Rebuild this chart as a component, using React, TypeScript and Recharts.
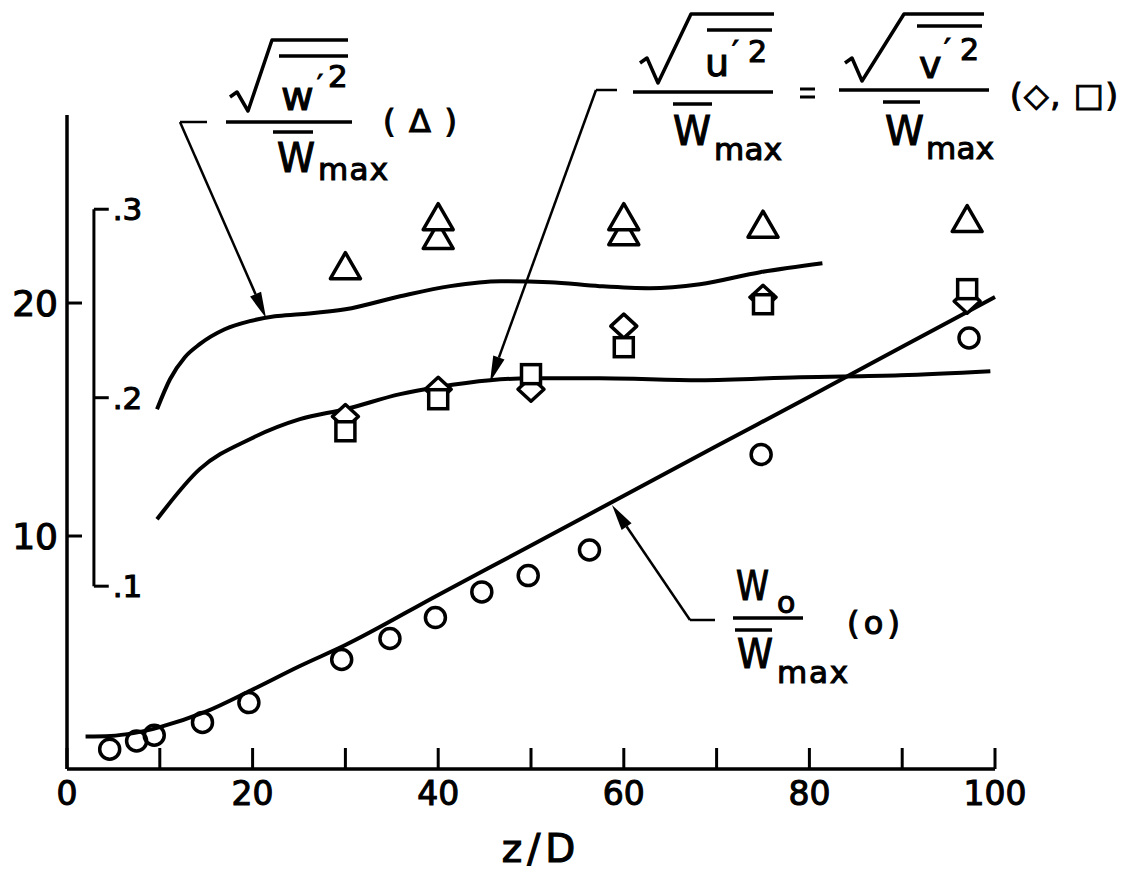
import React from 'react';
import { ComposedChart, Line, Scatter, XAxis, YAxis, ReferenceLine, Label } from 'recharts';

const FONT = '"DejaVu Sans", sans-serif';
const INK = '#000';

// centreline velocity W0 / Wmax (circles), left scale
const circleZ = [4.6, 7.5, 9.4, 14.6, 19.6, 29.6, 34.8, 39.7, 44.7, 49.7, 56.3, 74.8, 97.2];
const circleW0 = [0.85, 1.2, 1.45, 2.0, 2.85, 4.7, 5.6, 6.5, 7.6, 8.3, 9.4, 13.5, 18.5];

// turbulence intensities, bracket scale
const triangleZ = [30, 40, 40, 60, 60, 75, 97];
const triangleW = [0.269, 0.285, 0.295, 0.287, 0.295, 0.291, 0.294];
const diamondZ = [30, 40, 50, 60, 75, 97];
const diamondU = [0.19, 0.2045, 0.2045, 0.238, 0.2533, 0.2512];
const squareZ = [30, 40, 50, 60, 75, 97];
const squareV = [0.1822, 0.1992, 0.2125, 0.2268, 0.2496, 0.2576];

// computed curves
const w0CurveZ = [2, 4.7, 7.3, 10, 14.9, 19.9, 25.1, 30, 40, 50, 60, 70, 80, 90, 100];
const w0CurveVal = [1.4, 1.42, 1.55, 1.8, 2.45, 3.39, 4.42, 5.32, 7.47, 9.59, 11.73, 13.86, 15.98, 18.12, 20.26];
const uCurveZ = [9.7, 14.3, 19.7, 25.1, 30, 35.9, 39.9, 45.6, 49.9, 57.4, 68.2, 79, 89.8, 99.5];
const uCurveVal = [0.1355, 0.1621, 0.178, 0.1886, 0.1939, 0.2019, 0.2056, 0.2093, 0.2103, 0.2103, 0.2093, 0.2109, 0.2119, 0.2141];
const wCurveZ = [9.7, 11.1, 12.7, 14.3, 17, 19.7, 22.4, 25.1, 30, 35.9, 41.3, 46.7, 52, 57.4, 62.8, 68.2, 74.7, 81.4];
const wCurveVal = [0.1939, 0.2098, 0.2215, 0.2284, 0.2363, 0.2406, 0.2432, 0.2443, 0.2469, 0.2538, 0.2592, 0.2618, 0.2613, 0.2592, 0.2581, 0.2602, 0.2666, 0.2714];

const xTicks = [0, 10, 20, 30, 40, 50, 60, 70, 80, 90, 100];
const xLabelEvery = 20;
const yTicks = [10, 20];
const ratioTicks = [0.1, 0.2, 0.3];
const ratioTickLabels = ['.1', '.2', '.3'];

const pts = (xs: number[], ys: number[]) => xs.map((x, i) => ({ x, y: ys[i] }));

// hand-lettered look: regular glyphs with a thin outline
const heavy = { fontFamily: FONT, fill: INK, stroke: INK, strokeWidth: 1.1 };

const CircleMark = (p: any) => (
  <circle cx={p.cx} cy={p.cy} r={10} fill="none" stroke={INK} strokeWidth={3.5} />
);
const TriangleMark = (p: any) => (
  <path
    d={`M${p.cx},${p.cy - 15} L${p.cx + 15},${p.cy + 11} L${p.cx - 15},${p.cy + 11} Z`}
    fill="#fff" stroke={INK} strokeWidth={3.5} strokeLinejoin="round"
  />
);
const DiamondMark = (p: any) => (
  <path
    d={`M${p.cx},${p.cy - 12} L${p.cx + 13},${p.cy} L${p.cx},${p.cy + 12} L${p.cx - 13},${p.cy} Z`}
    fill="#fff" stroke={INK} strokeWidth={3.5} strokeLinejoin="round"
  />
);
const SquareMark = (p: any) => (
  <rect x={p.cx - 9.5} y={p.cy - 9.5} width={19} height={19} fill="#fff" stroke={INK} strokeWidth={3.5} />
);

const XTick = (p: any) => {
  const v = p.payload.value;
  return (
    <g>
      <line x1={p.x} y1={p.y} x2={p.x} y2={p.y - 21} stroke={INK} strokeWidth={3} />
      {v % xLabelEvery === 0 && (
        <text x={p.x} y={p.y + 36} textAnchor="middle" fontSize={33} {...heavy}>
          {v}
        </text>
      )}
    </g>
  );
};

const YTick = (p: any) => (
  <g>
    <line x1={p.x} y1={p.y} x2={p.x + 15} y2={p.y} stroke={INK} strokeWidth={3} />
    <text x={p.x - 9} y={p.y + 13} textAnchor="end" fontSize={36} {...heavy}>
      {p.payload.value}
    </text>
  </g>
);

const bracketLabel = (p: any) => {
  const vb = p.viewBox || {};
  return (
    <text x={vb.x + vb.width + 4} y={vb.y + 11} fontSize={31} {...heavy}>
      {p.value}
    </text>
  );
};

const Arrow = ({ from, to }: { from: number[]; to: number[] }) => {
  const [x1, y1] = from;
  const [x2, y2] = to;
  const a = Math.atan2(y2 - y1, x2 - x1);
  const len = 26;
  const half = 6;
  const bx = x2 - len * Math.cos(a);
  const by = y2 - len * Math.sin(a);
  const px = -Math.sin(a) * half;
  const py = Math.cos(a) * half;
  return (
    <g>
      <line x1={x1} y1={y1} x2={bx} y2={by} stroke={INK} strokeWidth={2.5} />
      <path d={`M${x2},${y2} L${bx + px},${by + py} L${bx - px},${by - py} Z`} fill={INK} />
    </g>
  );
};

const T = (props: any) => <text {...heavy} {...props} />;
const Rule = ({ d, w = 3.5 }: { d: string; w?: number }) => (
  <path d={d} fill="none" stroke={INK} strokeWidth={w} strokeLinejoin="round" />
);

function Annotations() {
  return (
    <svg
      width={1133}
      height={873}
      style={{ position: 'absolute', left: 0, top: 0, pointerEvents: 'none' }}
    >
      {/* sqrt(w'^2) / Wmax */}
      <Rule d="M207,122 L180,122" w={2.5} />
      <Arrow from={[180, 122]} to={[266, 318]} />
      <Rule d="M230,97 L237,92 L248,111 L272,40 L348,40" />
      <Rule d="M279,56 L348,56" />
      <T x={281} y={110} fontSize={40}>w</T>
      <T x={317} y={94} fontSize={26}>′</T>
      <T x={328} y={87} fontSize={31}>2</T>
      <Rule d="M226,122 L352,122" />
      <Rule d="M273,132 L313,132" />
      <T x={277} y={172} fontSize={41} textLength={38} lengthAdjust="spacingAndGlyphs">W</T>
      <T x={318} y={180} fontSize={31} textLength={70} lengthAdjust="spacing">max</T>
      <T x={383} y={132} fontSize={32} textLength={74} lengthAdjust="spacing">(Δ)</T>

      {/* sqrt(u'^2)/Wmax = sqrt(v'^2)/Wmax */}
      <Rule d="M617,90 L596,90" w={2.5} />
      <Arrow from={[596, 90]} to={[490, 382]} />
      <Rule d="M640,63 L647,58 L658,83 L691,14 L774,14" />
      <Rule d="M707,30 L772,30" />
      <T x={705} y={76} fontSize={38}>u</T>
      <T x={732} y={62} fontSize={30}>′</T>
      <T x={748} y={62} fontSize={30}>2</T>
      <Rule d="M633,92 L773,92" />
      <Rule d="M673,104 L712,104" />
      <T x={673} y={145} fontSize={41} textLength={38} lengthAdjust="spacingAndGlyphs">W</T>
      <T x={714} y={160} fontSize={31} textLength={68} lengthAdjust="spacing">max</T>
      <Rule d="M800,89 L815,89 M800,97 L815,97" w={3} />
      <Rule d="M845,63 L852,58 L862,81 L904,14 L984,14" />
      <Rule d="M917,26 L982,26" />
      <T x={919} y={78} fontSize={38}>v</T>
      <T x={944} y={60} fontSize={30}>′</T>
      <T x={960} y={60} fontSize={30}>2</T>
      <Rule d="M839,90 L989,90" />
      <Rule d="M883,102 L920,102" />
      <T x={885} y={145} fontSize={41} textLength={39} lengthAdjust="spacingAndGlyphs">W</T>
      <T x={926} y={159} fontSize={31} textLength={68} lengthAdjust="spacing">max</T>
      <T x={1010} y={106} fontSize={32} textLength={108} lengthAdjust="spacing">(◇, □)</T>

      {/* W0 / Wmax */}
      <Rule d="M715,620 L690,620" w={2.5} />
      <Arrow from={[690, 620]} to={[612, 505]} />
      <T x={736} y={600} fontSize={41} textLength={33} lengthAdjust="spacingAndGlyphs">W</T>
      <T x={777} y={613} fontSize={30}>o</T>
      <Rule d="M733,618 L803,618" />
      <Rule d="M735,630 L772,630" />
      <T x={737} y={668} fontSize={41} textLength={36} lengthAdjust="spacingAndGlyphs">W</T>
      <T x={777} y={683} fontSize={31} textLength={71} lengthAdjust="spacing">max</T>
      <T x={847} y={634} fontSize={32} textLength={53} lengthAdjust="spacing">(o)</T>
    </svg>
  );
}

export default function App() {
  return (
    <div style={{ position: 'absolute', left: 0, top: 0, width: 1133, height: 873, background: '#fff' }}>
      <ComposedChart width={1133} height={873} margin={{ top: 115, right: 138, bottom: 0, left: 0 }}>
        <XAxis
          xAxisId={0}
          type="number"
          dataKey="x"
          domain={[0, 100]}
          ticks={xTicks}
          interval={0}
          height={104}
          tickSize={0}
          tickMargin={0}
          tickLine={false}
          tick={<XTick />}
          axisLine={{ stroke: INK, strokeWidth: 3.5 }}
          label={{ value: 'z/D', position: 'insideBottom', offset: 11, dx: 10, fontSize: 39, letterSpacing: 5, ...heavy }}
        />
        <YAxis
          yAxisId="v"
          type="number"
          dataKey="y"
          domain={[0, 28.07]}
          ticks={yTicks}
          width={67}
          tickSize={0}
          tickMargin={0}
          tickLine={false}
          tick={<YTick />}
          axisLine={{ stroke: INK, strokeWidth: 3.5 }}
          allowDataOverflow
        />
        <YAxis
          yAxisId="r"
          orientation="right"
          width={0}
          type="number"
          dataKey="y"
          domain={[0.003, 0.35]}
          hide
          allowDataOverflow
        />

        {/* bracket scale for the intensities */}
        <ReferenceLine
          yAxisId="r"
          segment={[{ x: 2.9, y: ratioTicks[0] }, { x: 2.9, y: ratioTicks[2] }]}
          stroke={INK}
          strokeWidth={3}
        />
        {ratioTicks.map((r, i) => (
          <ReferenceLine
            key={r}
            yAxisId="r"
            segment={[{ x: 2.9, y: r }, { x: 4.5, y: r }]}
            stroke={INK}
            strokeWidth={3}
          >
            <Label value={ratioTickLabels[i]} content={bracketLabel} />
          </ReferenceLine>
        ))}

        <Line yAxisId="v" data={pts(w0CurveZ, w0CurveVal)} dataKey="y" type="monotone" dot={false}
          stroke={INK} strokeWidth={4} isAnimationActive={false} />
        <Line yAxisId="r" data={pts(uCurveZ, uCurveVal)} dataKey="y" type="monotone" dot={false}
          stroke={INK} strokeWidth={4} isAnimationActive={false} />
        <Line yAxisId="r" data={pts(wCurveZ, wCurveVal)} dataKey="y" type="monotone" dot={false}
          stroke={INK} strokeWidth={4} isAnimationActive={false} />

        <Scatter yAxisId="v" data={pts(circleZ, circleW0)} dataKey="y" shape={CircleMark} isAnimationActive={false} />
        <Scatter yAxisId="r" data={pts(triangleZ, triangleW)} dataKey="y" shape={TriangleMark} isAnimationActive={false} />
        <Scatter yAxisId="r" data={pts(diamondZ, diamondU)} dataKey="y" shape={DiamondMark} isAnimationActive={false} />
        <Scatter yAxisId="r" data={pts(squareZ, squareV)} dataKey="y" shape={SquareMark} isAnimationActive={false} />
      </ComposedChart>
      <Annotations />
    </div>
  );
}
